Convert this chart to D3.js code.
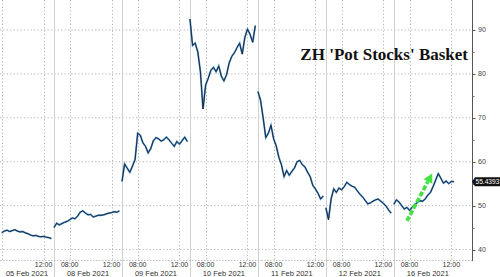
<!DOCTYPE html>
<html>
<head>
<meta charset="utf-8">
<script src="https://cdn.jsdelivr.net/npm/d3@7"></script>
<style>
  body { margin: 0; background: #fff; }
  svg { display: block; }
</style>
</head>
<body>
<div id="chart"></div>
<script>
const width = 500, height = 277;

// trading sessions shown on the axis (15 Feb was a holiday)
const sessions = ['05 Feb 2021', '08 Feb 2021', '09 Feb 2021', '10 Feb 2021', '11 Feb 2021', '12 Feb 2021', '16 Feb 2021'];
// time of the first bar shown for each session, bars are 15 min apart
const firstBar = ['08:00', '06:30', '06:30', '06:30', '06:30', '06:30', '06:30'];
const barMinutes = 15;

const feb05 = [43.8, 44.2, 44.4, 44.1, 44.3, 44.5, 44.2, 44.0, 44.1, 43.8, 43.6, 43.3, 43.1, 43.2, 43.0, 42.9, 43.0, 42.8, 42.7, 42.5];
const feb08 = [45.0, 46.0, 45.6, 45.9, 46.2, 46.4, 46.8, 47.2, 47.0, 47.6, 48.5, 48.8, 48.3, 47.9, 48.0, 47.4, 47.6, 47.8, 47.8, 47.9, 48.1, 48.3, 48.4, 48.6, 48.5, 48.8];
const feb09 = [55.5, 59.5, 58.5, 57.6, 59.0, 60.5, 66.5, 66.0, 64.3, 63.5, 62.0, 63.0, 64.8, 65.5, 65.2, 64.7, 65.0, 65.6, 65.0, 64.2, 63.5, 64.6, 64.0, 64.8, 65.6, 64.6];
const feb10 = [92.5, 86.5, 87.0, 85.0, 80.5, 72.0, 77.5, 79.0, 80.8, 81.5, 80.5, 81.8, 79.5, 78.4, 79.8, 82.5, 84.0, 84.8, 86.0, 87.0, 84.5, 88.3, 90.2, 89.0, 87.2, 91.0];
const feb11 = [76.0, 74.0, 70.0, 65.5, 66.5, 68.3, 65.2, 63.6, 61.0, 59.3, 56.6, 58.0, 56.9, 57.8, 58.6, 60.0, 60.3, 59.3, 58.8, 57.6, 56.6, 54.6, 53.8, 52.8, 51.5, 52.2];
const feb12 = [49.5, 46.8, 51.5, 53.8, 53.0, 54.0, 53.6, 54.3, 55.3, 54.8, 54.4, 54.2, 53.4, 52.6, 52.0, 51.2, 50.4, 50.6, 51.0, 51.3, 51.5, 51.0, 50.5, 49.9, 49.0, 48.3];
const feb16 = [50.3, 51.3, 50.8, 50.0, 49.2, 49.6, 48.9, 49.6, 50.2, 50.7, 51.1, 51.0, 51.5, 52.4, 53.0, 54.3, 55.8, 57.3, 56.2, 55.1, 55.6, 55.0, 55.5, 55.4393];
const priceSeries = [feb05, feb08, feb09, feb10, feb11, feb12, feb16];

const timeTicks = ['08:00', '12:00'];
const priceTicks = [40, 50, 60, 70, 80, 90];
const minorTicks = [45, 55, 65, 75, 85];
const lastPrice = 55.4393;
const title = "ZH 'Pot Stocks' Basket";

// green hand drawn arrow on the last session
const arrowFrom = { session: 6, time: '07:45', price: 46.5 };
const arrowTo = { session: 6, time: '10:10', price: 57.3 };

const plotRight = 472, plotBottom = 260;

function minutes(hhmm) {
    const p = hhmm.split(':');
    return +p[0] * 60 + +p[1];
}
// session index + fraction of the 06:30-13:00 session
function sessionTime(i, m) {
    return i + (m - 390) / 390;
}

const x = d3.scaleLinear()
    .domain([0.205, 7.15])
    .range([0, plotRight]);

const y = d3.scaleLinear()
    .domain([40, 90])
    .range([249.5, 30]);

const svg = d3.select('#chart').append('svg')
    .attr('width', width)
    .attr('height', height)
    .style('font-family', '"Liberation Sans", Arial, sans-serif');

svg.append('rect').attr('width', width).attr('height', height).attr('fill', '#fff');

svg.append('clipPath').attr('id', 'plot')
    .append('rect').attr('x', 0).attr('y', 0).attr('width', plotRight).attr('height', plotBottom);

// horizontal grid
svg.append('g').selectAll('line')
    .data(priceTicks)
    .enter().append('line')
    .attr('x1', 0).attr('x2', plotRight)
    .attr('y1', d => y(d)).attr('y2', d => y(d))
    .attr('stroke', '#b4b4b4')
    .attr('stroke-width', 1)
    .attr('stroke-dasharray', '1.2,2.2');

// dotted time grid
const timeGrid = [];
sessions.forEach((s, i) => {
    timeTicks.forEach(t => timeGrid.push({ session: i, label: t, t: sessionTime(i, minutes(t)) }));
});
svg.append('g').selectAll('line')
    .data(timeGrid.filter(d => x(d.t) >= 0 && x(d.t) <= plotRight))
    .enter().append('line')
    .attr('x1', d => Math.round(x(d.t)) + 0.5).attr('x2', d => Math.round(x(d.t)) + 0.5)
    .attr('y1', 0).attr('y2', plotBottom)
    .attr('stroke', '#b4b4b4')
    .attr('stroke-dasharray', '1.2,2.2');

// session separators
svg.append('g').selectAll('line')
    .data(d3.range(1, sessions.length))
    .enter().append('line')
    .attr('x1', d => Math.round(x(d)) + 0.5).attr('x2', d => Math.round(x(d)) + 0.5)
    .attr('y1', 0).attr('y2', height)
    .attr('stroke', '#d0d0d0');

// bottom axis line
svg.append('line')
    .attr('x1', 0).attr('x2', plotRight)
    .attr('y1', plotBottom + 0.5).attr('y2', plotBottom + 0.5)
    .attr('stroke', '#bdbdbd')
    .attr('stroke-dasharray', '1.5,1.5');

// price line, one path per session
const points = priceSeries.map((vals, i) => vals.map((v, k) => ({
    t: sessionTime(i, minutes(firstBar[i]) + k * barMinutes),
    v: v
})));

const line = d3.line()
    .x(d => x(d.t))
    .y(d => y(d.v));

const lines = svg.append('g').attr('clip-path', 'url(#plot)');
lines.selectAll('path.under')
    .data(points)
    .enter().append('path')
    .attr('class', 'under')
    .attr('d', line)
    .attr('fill', 'none')
    .attr('stroke', '#4a8fd2')
    .attr('stroke-width', 1.8);
lines.selectAll('path.over')
    .data(points)
    .enter().append('path')
    .attr('class', 'over')
    .attr('d', line)
    .attr('fill', 'none')
    .attr('stroke', '#17202a')
    .attr('stroke-width', 0.9);

// green arrow
const ax1 = x(sessionTime(arrowFrom.session, minutes(arrowFrom.time))), ay1 = y(arrowFrom.price);
const ax2 = x(sessionTime(arrowTo.session, minutes(arrowTo.time))), ay2 = y(arrowTo.price);
const ang = Math.atan2(ay2 - ay1, ax2 - ax1);
const headLen = 9, headW = 5;
const bx = ax2 - headLen * Math.cos(ang), by = ay2 - headLen * Math.sin(ang);
svg.append('line')
    .attr('x1', ax1).attr('y1', ay1).attr('x2', bx).attr('y2', by)
    .attr('stroke', '#44e044')
    .attr('stroke-width', 3.6)
    .attr('stroke-dasharray', '5,2');
svg.append('path')
    .attr('d', `M${ax2},${ay2}L${bx + headW * Math.sin(ang)},${by - headW * Math.cos(ang)}L${bx - headW * Math.sin(ang)},${by + headW * Math.cos(ang)}Z`)
    .attr('fill', '#44e044');

// right axis
const yAxis = svg.append('g')
    .attr('transform', `translate(${plotRight + 0.5},0)`);
yAxis.append('line')
    .attr('y1', 0).attr('y2', plotBottom + 1)
    .attr('stroke', '#555');
yAxis.selectAll('line.major')
    .data(priceTicks)
    .enter().append('line')
    .attr('class', 'major')
    .attr('x1', 0).attr('x2', 3)
    .attr('y1', d => Math.round(y(d)) + 0.5).attr('y2', d => Math.round(y(d)) + 0.5)
    .attr('stroke', '#555');
yAxis.selectAll('line.minor')
    .data(minorTicks)
    .enter().append('line')
    .attr('class', 'minor')
    .attr('x1', 0).attr('x2', 2)
    .attr('y1', d => Math.round(y(d)) + 0.5).attr('y2', d => Math.round(y(d)) + 0.5)
    .attr('stroke', '#777');
yAxis.selectAll('text')
    .data(priceTicks)
    .enter().append('text')
    .attr('x', 5.5)
    .attr('y', d => y(d))
    .attr('dy', '0.35em')
    .attr('font-size', 7)
    .attr('fill', '#444')
    .text(d => d);

// last price tag
const yp = y(lastPrice);
svg.append('path')
    .attr('d', `M${plotRight},${yp}L${plotRight + 3},${yp - 4.5}H${width}V${yp + 4.5}H${plotRight + 3}Z`)
    .attr('fill', '#111');
svg.append('text')
    .attr('x', plotRight + 3.5)
    .attr('y', yp)
    .attr('dy', '0.35em')
    .attr('font-size', 6.6)
    .attr('fill', '#fff')
    .text(lastPrice.toFixed(4));

// time labels
svg.append('g').selectAll('text')
    .data(timeGrid.filter(d => x(d.t) > 10 && x(d.t) < plotRight))
    .enter().append('text')
    .attr('x', d => x(d.t))
    .attr('y', 267)
    .attr('text-anchor', 'middle')
    .attr('font-size', 7)
    .attr('fill', '#333')
    .text(d => d.label);

// session date labels, centred on the visible part of each session
svg.append('g').selectAll('text')
    .data(sessions)
    .enter().append('text')
    .attr('x', (d, i) => (Math.max(0, x(i)) + Math.min(plotRight, x(i + 1))) / 2)
    .attr('y', 276)
    .attr('text-anchor', 'middle')
    .attr('font-size', 7.5)
    .attr('fill', '#333')
    .text(d => d);

// title
svg.append('text')
    .attr('x', 468)
    .attr('y', 60)
    .attr('text-anchor', 'end')
    .attr('font-family', '"Liberation Serif", "DejaVu Serif", serif')
    .attr('font-weight', 'bold')
    .attr('font-size', 17)
    .attr('fill', '#111')
    .text(title);
</script>
</body>
</html>
